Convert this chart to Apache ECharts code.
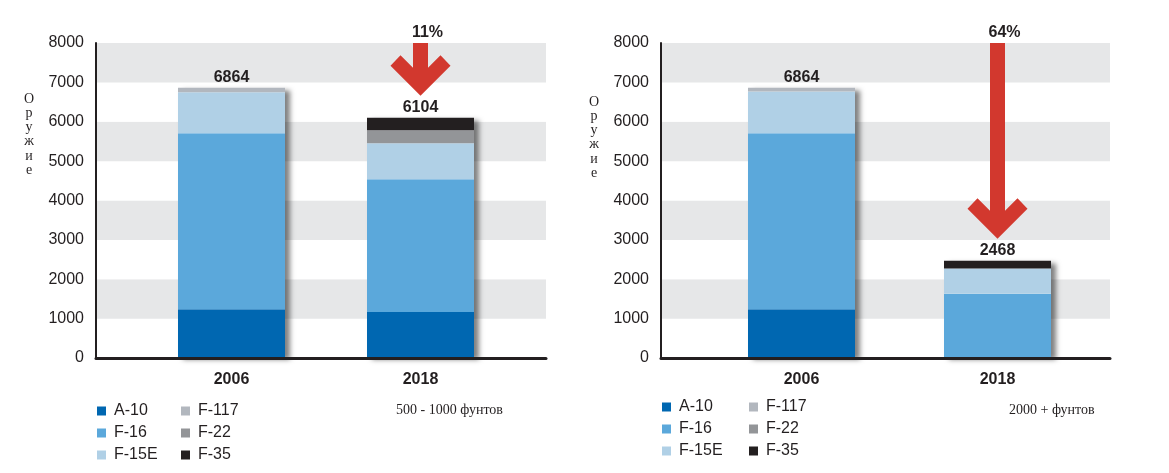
<!DOCTYPE html>
<html>
<head>
<meta charset="utf-8">
<script src="https://cdn.jsdelivr.net/npm/echarts@6/dist/echarts.min.js"></script>
<style>
html,body{margin:0;padding:0;background:#fff;}
#c{width:1169px;height:473px;}
</style>
</head>
<body>
<div id="c"></div>
<script>
// ---------- DATA ----------
const categories = ['2006', '2018'];
const seriesNames = ['A-10', 'F-16', 'F-15E', 'F-117', 'F-22', 'F-35'];

// Left panel: 500 - 1000 lb
const leftA10   = [1240, 1170];
const leftF16   = [4470, 3372];
const leftF15E  = [1040, 913];
const leftF117  = [114, 0];
const leftF22   = [0, 330];
const leftF35   = [0, 319];

// Right panel: 2000+ lb
const rightA10  = [1240, 0];
const rightF16  = [4470, 1630];
const rightF15E = [1060, 640];
const rightF117 = [94, 0];
const rightF22  = [0, 0];
const rightF35  = [0, 198];

const yMin = 0, yMax = 8000, yStep = 1000;
const yAxisTitle = 'Оружие';
const panelNotes = ['500 - 1000 фунтов', '2000 + фунтов'];

// ---------- STYLE ----------
const colors = ['#0067b1', '#5ba8db', '#b0d0e6', '#b2b7be', '#939598', '#231f20'];
const ink = '#231f20';
const sans = '"Liberation Sans", Arial, Helvetica, sans-serif';
const serif = '"Liberation Serif", "Times New Roman", serif';
const gridTop = 43, gridHeight = 315;
const barW = 107;

const panels = [
  { data: [leftA10, leftF16, leftF15E, leftF117, leftF22, leftF35],
    frame: { left: 96, width: 450 }, bars: { left: 137, width: 378 },
    legendX: [97, 181], legendTop: 403, note: { x: 396, y: 411 }, yname: { x: 29, y: 92 } },
  { data: [rightA10, rightF16, rightF15E, rightF117, rightF22, rightF35],
    frame: { left: 661, width: 449 }, bars: { left: 703.5, width: 392 },
    legendX: [662, 749], legendTop: 399, note: { x: 1009, y: 411 }, yname: { x: 594, y: 95 } }
];

function totalsOf(arrs) {
  return categories.map((_, j) => arrs.reduce((s, a) => s + a[j], 0));
}

const chart = echarts.init(document.getElementById('c'));

const grid = [], xAxis = [], yAxis = [], series = [], legend = [], graphic = [];

panels.forEach((p, i) => {
  const gF = 2 * i, gB = 2 * i + 1;
  grid.push({ left: p.frame.left, width: p.frame.width, top: gridTop, height: gridHeight });
  grid.push({ left: p.bars.left, width: p.bars.width, top: gridTop, height: gridHeight });

  xAxis.push({ gridIndex: gF, type: 'value', min: 0, max: 1, z: 6,
    axisLine: { show: true, lineStyle: { color: ink, width: 3 } },
    axisTick: { show: false }, axisLabel: { show: false }, splitLine: { show: false } });
  xAxis.push({ gridIndex: gB, type: 'category', data: categories,
    axisLine: { show: false }, axisTick: { show: false }, splitLine: { show: false },
    axisLabel: { margin: 14, color: ink, fontSize: 16, fontWeight: 'bold', fontFamily: sans } });

  yAxis.push({ gridIndex: gF, type: 'value', min: yMin, max: yMax, interval: yStep,
    axisLine: { show: true, lineStyle: { color: ink, width: 2 } },
    axisTick: { show: false },
    axisLabel: { margin: 12, color: ink, fontSize: 16, fontFamily: sans, formatter: (v) => String(v) },
    splitLine: { show: false },
    splitArea: { show: true, areaStyle: { color: ['#ffffff', '#e6e7e8'] } } });
  yAxis.push({ gridIndex: gB, type: 'value', min: yMin, max: yMax, interval: yStep, show: false });

  const totals = totalsOf(p.data);

  // shadow backing bar
  series.push({ type: 'bar', name: '_shadow' + i, xAxisIndex: gB, yAxisIndex: gB,
    data: totals, barWidth: barW, barGap: '-100%', silent: true, z: 2,
    itemStyle: { color: '#ffffff', shadowColor: 'rgba(0,0,0,0.5)', shadowBlur: 5, shadowOffsetX: 5, shadowOffsetY: 2 } });

  p.data.forEach((arr, k) => {
    series.push({ type: 'bar', name: seriesNames[k], xAxisIndex: gB, yAxisIndex: gB,
      stack: 'p' + i, data: arr, barWidth: barW, barGap: '-100%', z: 3,
      itemStyle: { color: colors[k] } });
  });

  series.push({ type: 'scatter', name: '_total' + i, xAxisIndex: gB, yAxisIndex: gB,
    data: totals, symbolSize: 0, silent: true, z: 4,
    itemStyle: { opacity: 1 },
    label: { show: true, position: 'top', distance: 2, color: ink, opacity: 1, fontSize: 16, fontWeight: 'bold', fontFamily: sans,
      formatter: (d) => String(d.value) } });

  const legendText = { color: ink, fontSize: 16, fontFamily: sans, lineHeight: 16, padding: [0, 0, 0, 3] };
  legend.push({ orient: 'vertical', left: p.legendX[0], top: p.legendTop, padding: 0, data: seriesNames.slice(0, 3),
    icon: 'rect', itemWidth: 9, itemHeight: 9, itemGap: 6, selectedMode: false, textStyle: legendText });
  legend.push({ orient: 'vertical', left: p.legendX[1], top: p.legendTop, padding: 0, data: seriesNames.slice(3),
    icon: 'rect', itemWidth: 9, itemHeight: 9, itemGap: 6, selectedMode: false, textStyle: legendText });

  graphic.push({ type: 'text', left: p.note.x, top: p.note.y - 8,
    style: { text: panelNotes[i], fill: ink, font: '14px ' + serif } });
  graphic.push({ type: 'text', x: p.yname.x, y: p.yname.y,
    style: { text: yAxisTitle.split('').join('\n'), fill: ink, font: '14px ' + serif, lineHeight: 14.2, align: 'center', verticalAlign: 'top' } });
});

chart.setOption({
  animation: false,
  color: colors,
  grid, xAxis, yAxis, series, legend, graphic
});

// Arrows computed from the data scales
const arrowGraphics = [];
panels.forEach((p, i) => {
  const gB = 2 * i + 1;
  const totals = totalsOf(p.data);
  const last = categories.length - 1;
  const tipPt = chart.convertToPixel({ xAxisIndex: gB, yAxisIndex: gB }, [categories[last], totals[last]]);
  const topPt = chart.convertToPixel({ xAxisIndex: gB, yAxisIndex: gB }, [categories[last], yMax]);
  const cx = tipPt[0], T = tipPt[1] - 22, top = topPt[1], h = 7.5;
  const pts = [[cx, T], [cx - 30, T - 30], [cx - 20, T - 40.5], [cx - h, T - 28], [cx - h, top],
               [cx + h, top], [cx + h, T - 28], [cx + 20, T - 40.5], [cx + 30, T - 30]];
  const pct = Math.round((1 - totals[last] / totals[0]) * 100) + '%';
  arrowGraphics.push({ type: 'polygon', shape: { points: pts }, style: { fill: '#d2382e' }, z: 10 });
  arrowGraphics.push({ type: 'text', x: cx + 7, y: top - 10, z: 10,
    style: { text: pct, fill: ink, font: 'bold 16px ' + sans, align: 'center', verticalAlign: 'middle' } });
});
chart.setOption({ graphic: graphic.concat(arrowGraphics) }, { replaceMerge: ['graphic'] });
</script>
</body>
</html>
